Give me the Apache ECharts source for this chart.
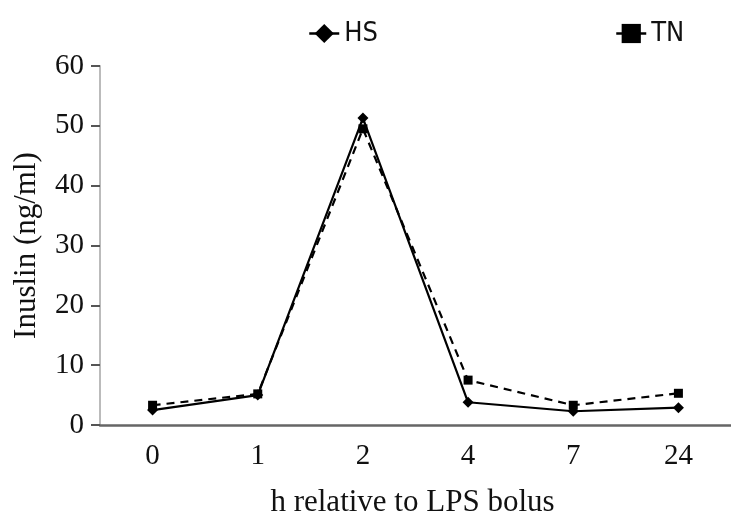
<!DOCTYPE html>
<html><head><meta charset="utf-8">
<script src="https://cdn.jsdelivr.net/npm/echarts@6/dist/echarts.min.js"></script>
<style>html,body{margin:0;padding:0;background:#fff}#c{width:731px;height:523px}</style>
</head><body><div id="c"></div>
<script>
const categories = ['0', '1', '2', '4', '7', '24'];
const hsValues = [2.5, 5.0, 51.3, 3.8, 2.3, 2.9];
const tnValues = [3.3, 5.2, 49.5, 7.5, 3.3, 5.3];
const yTicks = [0, 10, 20, 30, 40, 50, 60];

const legendText = { fontFamily: '"Liberation Sans Narrow", "DejaVu Sans Condensed", sans-serif', fontSize: 27, color: '#111' };
const legendBase = { top: 15, itemWidth: 30, itemHeight: 24, textStyle: legendText,
  lineStyle: { type: 'solid', width: 2.5 } };
const chart = echarts.init(document.getElementById('c'));
chart.setOption({
  animation: false,
  legend: [
    Object.assign({ data: ['HS'], left: 303 }, legendBase),
    Object.assign({ data: ['TN'], left: 610 }, legendBase)
  ],
  grid: { left: 100, top: 66, width: 641, height: 362 },
  xAxis: {
    type: 'category', data: categories, boundaryGap: true,
    axisLine: { lineStyle: { color: '#666', width: 2.5 } },
    axisTick: { show: false },
    axisLabel: { fontFamily: 'Liberation Serif', fontSize: 29, color: '#111', margin: 17 },
    name: 'h relative to LPS bolus', nameLocation: 'middle', nameGap: 62,
    nameTextStyle: { fontFamily: 'Liberation Serif', fontSize: 31, color: '#111', padding: [0, 0, 0, -6] }
  },
  yAxis: {
    type: 'value', min: 0, max: 60, interval: 10,
    axisLine: { show: true, lineStyle: { color: '#bbb', width: 2 } },
    axisTick: { show: true, length: 9, lineStyle: { color: '#555', width: 2 } },
    splitLine: { show: false },
    axisLabel: { fontFamily: 'Liberation Serif', fontSize: 29, color: '#111', margin: 16,
      formatter: v => yTicks.includes(v) ? String(v) : '' },
    name: 'Inuslin (ng/ml)', nameLocation: 'middle', nameGap: 58,
    nameTextStyle: { fontFamily: 'Liberation Serif', fontSize: 31, color: '#111' }
  },
  series: [
    { name: 'HS', type: 'line', data: hsValues, symbol: 'diamond', symbolSize: 11,
      itemStyle: { color: '#000' }, lineStyle: { color: '#000', width: 2.2 }, z: 3 },
    { name: 'TN', type: 'line', data: tnValues, symbol: 'rect', symbolSize: 9,
      itemStyle: { color: '#000' }, lineStyle: { color: '#000', width: 2.2, type: [8, 6] }, z: 2 }
  ]
});
</script></body></html>
